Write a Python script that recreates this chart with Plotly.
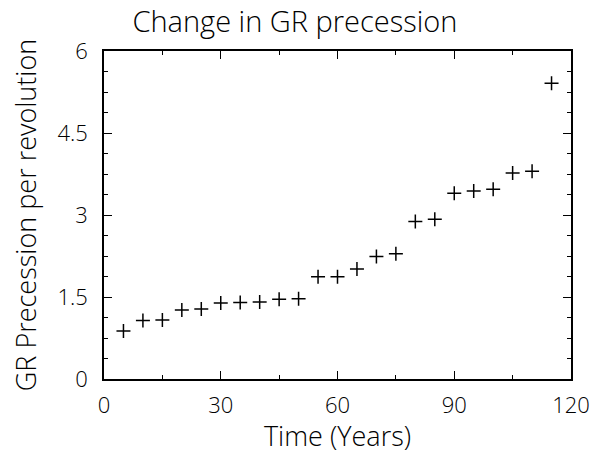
import plotly.graph_objects as go

# Years since start and GR precession per revolution
years = [5, 10, 15, 20, 25, 30, 35, 40, 45, 50, 55, 60, 65, 70, 75, 80, 85, 90, 95, 100, 105, 110, 115]
precession = [0.88, 1.07, 1.08, 1.26, 1.28, 1.39, 1.40, 1.41, 1.46, 1.47, 1.87, 1.87, 2.01, 2.24, 2.29,
              2.88, 2.92, 3.40, 3.44, 3.47, 3.77, 3.80, 5.41]

x_ticks = [0, 30, 60, 90, 120]
x_tick_text = ["0", "30", "60", "90", "120"]
y_ticks = [0, 1.5, 3, 4.5, 6]
y_tick_text = ["0", "1.5", "3", "4.5", "6"]

FONT = "Open Sans"
WEIGHT = 300

fig = go.Figure(go.Scatter(
    x=years, y=precession, mode="markers",
    marker=dict(symbol="cross-thin", size=10, line=dict(color="black", width=1.5)),
))

axis_common = dict(
    showgrid=False, zeroline=False, showline=True, linecolor="black", linewidth=1.5,
    mirror="allticks", ticks="inside", ticklen=8, tickwidth=1, tickcolor="black",
    tickfont=dict(family=FONT, size=22, color="black", weight=WEIGHT),
)

fig.update_xaxes(
    range=[0, 120], tickvals=x_ticks, ticktext=x_tick_text, ticklabelstandoff=6,
    minor=dict(dtick=15, ticks="inside", ticklen=4, tickwidth=1, tickcolor="black"),
    title=dict(text="Time (Years)", font=dict(family=FONT, size=27, color="black", weight=WEIGHT), standoff=4),
    **axis_common,
)
fig.update_yaxes(
    range=[0, 6], tickvals=y_ticks, ticktext=y_tick_text, ticklabelstandoff=10,
    minor=dict(dtick=0.375, tick0=0, ticks="inside", ticklen=4, tickwidth=1, tickcolor="black"),
    title=dict(text="GR Precession per revolution", font=dict(family=FONT, size=27, color="black", weight=WEIGHT),
               standoff=13),
    **axis_common,
)

fig.update_layout(
    width=602, height=454,
    margin=dict(l=104, r=26, t=51, b=73),
    paper_bgcolor="white", plot_bgcolor="white",
    showlegend=False,
    title=dict(text="Change in GR precession", x=0.49, xanchor="center", y=0.952, yanchor="middle",
               font=dict(family=FONT, size=29, color="black", weight=WEIGHT)),
)

fig.write_html("out.html")
